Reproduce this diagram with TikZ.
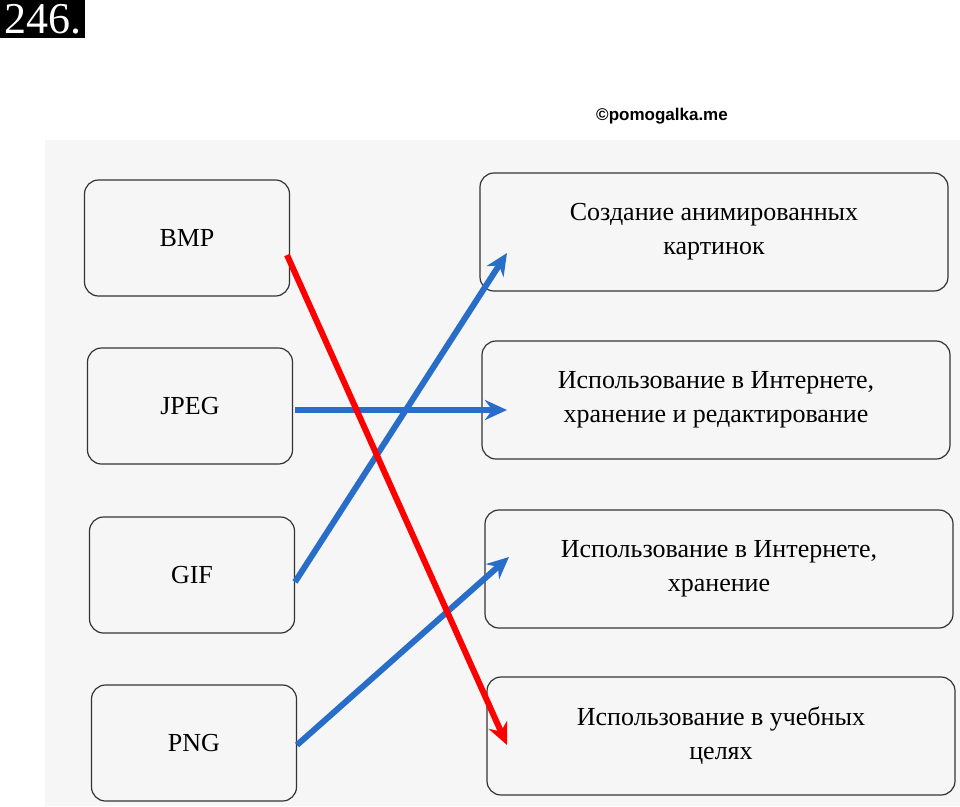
\documentclass[tikz,border=0pt]{standalone}
\usepackage{fontspec}
\setmainfont{Liberation Serif}
\newfontfamily\marksans{Liberation Sans}
\usetikzlibrary{positioning}
\usetikzlibrary{arrows.meta}
\definecolor{lineblue}{RGB}{40,110,200}
\definecolor{bggray}{RGB}{246,246,246}
\tikzset{
  fmt/.style={draw=black!80, line width=1.2pt, rounded corners=14pt, minimum width=205pt, minimum height=116pt, font=\fontsize{26}{34}\selectfont},
  use/.style={draw=black!80, line width=1.2pt, rounded corners=14pt, minimum width=468pt, minimum height=118pt, align=center, font=\fontsize{26}{34}\selectfont},
  link/.style={line width=6pt, -{Stealth[length=22pt,width=20pt]}}
}
\begin{document}
\begin{tikzpicture}[x=1pt,y=-1pt]
    \useasboundingbox (0,0) rectangle (960,806);
    \fill[bggray] (45,140) rectangle (960,806);
    \node[fill=black, text=white, inner sep=4pt, anchor=north west, font=\fontsize{44}{44}\selectfont] (num) at (0,0) {246.};
    \node[font=\marksans\bfseries\fontsize{17}{17}\selectfont] (mark) at (662,116) {©pomogalka.me};
    % formats
    \node[fmt] (BMP) at (187,238) {BMP};
    \node[fmt] (JPEG) at (190,406) {JPEG};
    \node[fmt] (GIF) at (192,575) {GIF};
    \node[fmt] (PNG) at (194,743) {PNG};
    % uses
    \node[use] (anim) at (714,232) {Создание анимированных\\картинок};
    \node[use] (webedit) at (716,400) {Использование в Интернете,\\хранение и редактирование};
    \node[use] (web) at (719,569) {Использование в Интернете,\\хранение};
    \node[use] (study) at (721,736) {Использование в учебных\\целях};
    \coordinate (a1) at (287,255);
    \coordinate (a2) at (295,410);
    \coordinate (a3) at (295,582);
    \coordinate (a4) at (297,745);
    \coordinate (b1) at (507,745);
    \coordinate (b2) at (507,410);
    \coordinate (b3) at (507,253);
    \coordinate (b4) at (509,557);
    \draw[link, lineblue] (a2) -- (b2);
    \draw[link, lineblue] (a3) -- (b3);
    \draw[link, lineblue] (a4) -- (b4);
    \draw[link, red] (a1) -- (b1);
\end{tikzpicture}
\end{document}
